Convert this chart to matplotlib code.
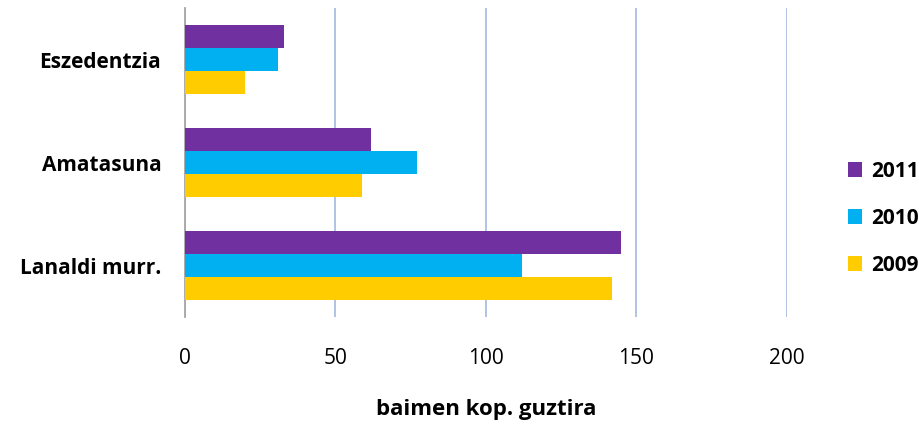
import numpy as np
import matplotlib.pyplot as plt

plt.rcParams['font.family'] = ['Open Sans', 'DejaVu Sans']

categories = ['Lanaldi murr.', 'Amatasuna', 'Eszedentzia']
years = ['2009', '2010', '2011']
v2009 = [142, 59, 20]
v2010 = [112, 77, 31]
v2011 = [145, 62, 33]
colors = {'2009': '#FFCC00', '2010': '#00B0F0', '2011': '#7030A0'}
xticks = [0, 50, 100, 150, 200]

fig = plt.figure(figsize=(9.2, 4.25), dpi=100)
ax = fig.add_axes([0.201, 0.254, 0.654, 0.727])

y = np.arange(len(categories))
h = 0.222
vals = {'2009': v2009, '2010': v2010, '2011': v2011}
for i, yr in enumerate(years):
    ax.barh(y + (i - 1) * h, vals[yr], height=h, color=colors[yr], label=yr, zorder=3)

ax.set_xlim(0, 200)
ax.set_ylim(-0.5, 2.5)
ax.set_xticks(xticks)
ax.set_yticks(y)
ax.set_yticklabels(categories, fontsize=15, fontweight='bold')
ax.tick_params(axis='x', labelsize=15, length=0, pad=22)
ax.tick_params(axis='y', length=0, pad=17)
ax.grid(axis='x', color='#A9BEE4', linewidth=1.3, zorder=0)
for s in ['top', 'right', 'bottom']:
    ax.spines[s].set_visible(False)
ax.spines['left'].set_color('#A6A6A6')
ax.spines['left'].set_linewidth(1.3)
ax.set_xlabel('baimen kop. guztira', fontsize=16, fontweight='bold', labelpad=22)

handles, labels = ax.get_legend_handles_labels()
ax.legend(handles[::-1], labels[::-1], loc='center left', bbox_to_anchor=(1.088, 0.32),
          frameon=False, labelspacing=1.25, handlelength=0.7,
          handleheight=0.7, handletextpad=0.4, borderaxespad=0,
          prop={'weight': 'bold', 'size': 15})

fig.savefig('out.png', dpi=100)
